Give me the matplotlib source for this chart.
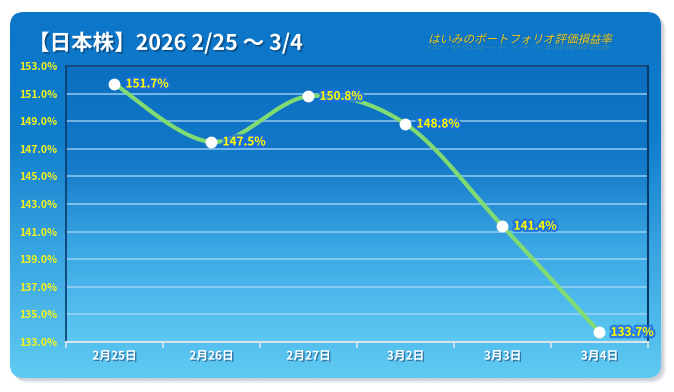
import matplotlib
matplotlib.use("Agg")
import matplotlib.pyplot as plt
import matplotlib.patheffects as pe
from matplotlib.patches import FancyBboxPatch, PathPatch
from matplotlib.colors import LinearSegmentedColormap
from matplotlib.textpath import TextPath
from matplotlib.font_manager import FontProperties
from matplotlib.transforms import Affine2D
import numpy as np

plt.rcParams['font.family'] = ['Noto Sans CJK JP', 'DejaVu Sans']

# data
dates = ["2月25日", "2月26日", "2月27日", "3月2日", "3月3日", "3月4日"]
rates = [151.7, 147.5, 150.8, 148.8, 141.4, 133.7]
yticks = np.arange(133, 154, 2)
title = "【日本株】2026 2/25 〜 3/4"
subtitle = "はいみのポートフォリオ評価損益率"

W, H = 674, 392
fig = plt.figure(figsize=(W / 100, H / 100), dpi=100)
fig.patch.set_facecolor("white")

# background panel
bg = fig.add_axes([0, 0, 1, 1])
bg.set_xlim(0, W)
bg.set_ylim(H, 0)
bg.axis("off")

px0, py0, pw, ph = 10, 12, 651, 366
for i, a in enumerate([0.10, 0.14, 0.2]):
    d = 5 - i * 1.3
    sh = FancyBboxPatch((px0 + d, py0 + d), pw, ph,
                        boxstyle="round,pad=0,rounding_size=14",
                        fc="#7f8a99", ec="none", alpha=a)
    bg.add_patch(sh)
panel = FancyBboxPatch((px0, py0), pw, ph, boxstyle="round,pad=0,rounding_size=14",
                       fc="none", ec="none")
bg.add_patch(panel)
cmap_bg = LinearSegmentedColormap.from_list("bg", ["#0c76c8", "#0f7ccc", "#3aa6e2", "#5fcaf2"])
grad = np.linspace(0, 1, 256).reshape(-1, 1)
im = bg.imshow(grad, cmap=cmap_bg, aspect="auto",
               extent=[px0, px0 + pw, py0 + ph, py0], zorder=1)
im.set_clip_path(panel)

bg.text(28, 43, title, color="white", fontsize=15.5, fontweight="bold",
        va="center", ha="left", zorder=5,
        path_effects=[pe.withSimplePatchShadow(offset=(1.2, -1.2), shadow_rgbFace="#0a3f70", alpha=0.7)])

# italic subtitle with reflection
tp = TextPath((0, 0), subtitle, size=11.5, prop=FontProperties(family="Noto Sans CJK JP"))
sub_t = Affine2D().skew_deg(14, 0).scale(1, -1).translate(428, 43) + bg.transData
bg.add_patch(PathPatch(tp, fc="#1a4f80", ec="none", alpha=0.5, zorder=5,
                       transform=Affine2D().skew_deg(14, 0).scale(1, -1).translate(428.8, 43.8) + bg.transData))
bg.add_patch(PathPatch(tp, fc="#eec81c", ec="none", zorder=6, transform=sub_t))
bg.add_patch(PathPatch(tp, fc="#e0c030", ec="none", alpha=0.22, zorder=5,
                       transform=Affine2D().skew_deg(-14, 0).scale(1, 0.55).translate(428, 45) + bg.transData))

# plot area
L, T, R, B = 66, 66, 648, 342
ax = fig.add_axes([L / W, 1 - B / H, (R - L) / W, (B - T) / H])
ax.set_xlim(-0.5, len(dates) - 0.5)
ax.set_ylim(133, 153)
cmap_pa = LinearSegmentedColormap.from_list("pa", ["#0b6fc0", "#1278c8", "#3ca8e4", "#5cc8f2"])
ax.imshow(grad, cmap=cmap_pa, aspect="auto", extent=[-0.5, len(dates) - 0.5, 133, 153], zorder=0)

for v in yticks[1:-1]:
    ax.axhline(v, color="#a8d8f8", lw=1.1, alpha=0.85, zorder=1)
ax.axhline(153, color="#a8d8f8", lw=1.1, zorder=1)

for s in ["top", "left", "right"]:
    ax.spines[s].set_color("#0a3a6a")
    ax.spines[s].set_linewidth(1.2)
ax.spines["right"].set_linewidth(1.5)
ax.spines["bottom"].set_color("#d8e4ee")
ax.spines["bottom"].set_linewidth(1.5)

ax.set_yticks(yticks)
ax.set_yticklabels([f"{v:.1f}%" for v in yticks], color="#f4f41c",
                   fontsize=7.5, fontweight="bold")
ax.tick_params(axis="y", length=0, pad=6)
ax.set_xticks(np.arange(-0.5, len(dates), 1))
ax.set_xticklabels([])
ax.tick_params(axis="x", length=4, color="#d8e4ee", width=1.2, direction="out")
for i, d in enumerate(dates):
    ax.text(i, 132.45, d, ha="center", va="top", clip_on=False,
            color="white", fontsize=8.5, fontweight="bold",
            path_effects=[pe.withSimplePatchShadow(offset=(1, -1), shadow_rgbFace="#235a8a", alpha=0.7)])

# smooth curve (Excel-like bezier), in pixel-scaled space
xs = np.arange(len(rates), dtype=float)
sx = (R - L) / len(dates)
sy = (B - T) / 20.0
P = np.column_stack([xs * sx, np.array(rates) * sy])
curve = []
for i in range(len(P) - 1):
    p0 = P[max(i - 1, 0)]
    p1 = P[i]
    p2 = P[i + 1]
    p3 = P[min(i + 2, len(P) - 1)]
    c1 = p1 + (p2 - p0) / 6
    c2 = p2 - (p3 - p1) / 6
    t = np.linspace(0, 1, 40)[:, None]
    seg = (1 - t) ** 3 * p1 + 3 * (1 - t) ** 2 * t * c1 + 3 * (1 - t) * t ** 2 * c2 + t ** 3 * p2
    curve.append(seg)
curve = np.vstack(curve)
ax.plot(curve[:, 0] / sx, curve[:, 1] / sy, color="#80dc72", lw=3, zorder=3,
        solid_capstyle="round")
ax.plot(xs, rates, "o", ms=7.5, mfc="white", mec="white", zorder=4, clip_on=False)

for x, v in zip(xs, rates):
    ax.annotate(f"{v:.1f}%", (x, v), xytext=(8, 0), textcoords="offset points",
                ha="left", va="center", color="#ffff00", fontsize=8.5, fontweight="bold",
                zorder=5, annotation_clip=False,
                path_effects=[pe.withStroke(linewidth=3.5, foreground="#1f6ee0", alpha=0.8)])

fig.savefig("out.png", dpi=100, facecolor="white")
